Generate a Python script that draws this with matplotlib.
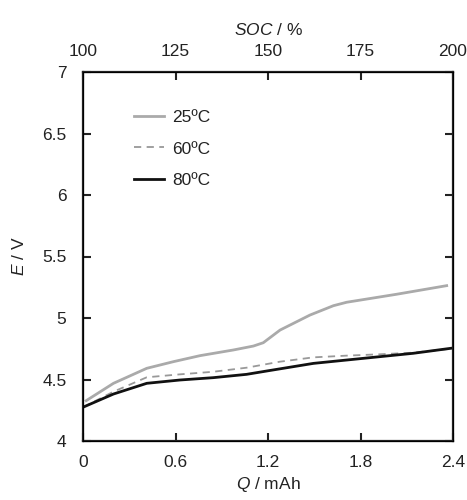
import matplotlib
matplotlib.use('Agg')
import matplotlib.pyplot as plt

plt.rcParams['font.family'] = ['Liberation Sans', 'DejaVu Sans']
plt.rcParams['mathtext.fontset'] = 'custom'
plt.rcParams['mathtext.it'] = 'Liberation Sans:italic'
plt.rcParams['mathtext.rm'] = 'Liberation Sans'

# charge passed (mAh) and cell potential (V) for each temperature
q_25 = [0.02, 0.197, 0.413, 0.586, 0.759, 0.975, 1.105, 1.169, 1.278, 1.472, 1.624, 1.710, 1.775, 2.034, 2.359]
e_25 = [4.328, 4.469, 4.591, 4.645, 4.694, 4.740, 4.772, 4.799, 4.902, 5.024, 5.100, 5.128, 5.141, 5.193, 5.263]

q_60 = [0.0, 0.197, 0.413, 0.629, 0.845, 1.061, 1.278, 1.494, 1.710, 1.926, 2.142, 2.4]
e_60 = [4.275, 4.401, 4.518, 4.542, 4.563, 4.596, 4.645, 4.680, 4.694, 4.705, 4.718, 4.752]

q_80 = [0.0, 0.197, 0.413, 0.629, 0.845, 1.061, 1.191, 1.494, 1.818, 2.142, 2.4]
e_80 = [4.275, 4.382, 4.469, 4.496, 4.515, 4.542, 4.569, 4.631, 4.672, 4.713, 4.756]

x_ticks = [0, 0.6, 1.2, 1.8, 2.4]
y_ticks = [4, 4.5, 5, 5.5, 6, 6.5, 7]
soc_ticks = [100, 125, 150, 175, 200]

fig = plt.figure(figsize=(4.67, 5), dpi=100)
ax = fig.add_axes([0.178, 0.118, 0.792, 0.738])

ax.plot(q_25, e_25, color='#aaaaaa', lw=2.0, label='25ºC')
ax.plot(q_60, e_60, color='#999999', lw=1.3, ls=(0, (4, 3)), label='60ºC')
ax.plot(q_80, e_80, color='#111111', lw=2.0, label='80ºC')

ax.set_xlim(0, 2.4)
ax.set_ylim(4, 7)
ax.set_xticks(x_ticks)
ax.set_xticklabels(['0', '0.6', '1.2', '1.8', '2.4'])
ax.set_yticks(y_ticks)
ax.set_yticklabels(['4', '4.5', '5', '5.5', '6', '6.5', '7'])
ax.tick_params(direction='in', length=6, width=1.5, labelsize=12.5,
               right=True, colors='#222222', labelcolor='#222222')
ax.tick_params(axis='x', pad=10)
ax.tick_params(axis='y', pad=12)
for s in ax.spines.values():
    s.set_linewidth(1.6)
    s.set_color('#222222')

ax.set_xlabel('$Q$ / mAh', fontsize=12.5, color='#222222', labelpad=4)
ax.set_ylabel('$E$ / V', fontsize=12.5, color='#222222', labelpad=11)

top = ax.twiny()
top.set_xlim(100, 200)
top.set_xticks(soc_ticks)
top.tick_params(direction='in', length=6, width=1.5, labelsize=12.5,
                colors='#222222', labelcolor='#222222', pad=9)
top.set_xlabel('$SOC$ / %', fontsize=12.5, color='#222222', labelpad=7)

ax.legend(loc='upper left', bbox_to_anchor=(0.095, 0.94), frameon=False,
          fontsize=12.5, handlelength=1.75, handletextpad=0.45, labelspacing=0.95,
          labelcolor='#222222')

fig.savefig('out.png', dpi=100)
